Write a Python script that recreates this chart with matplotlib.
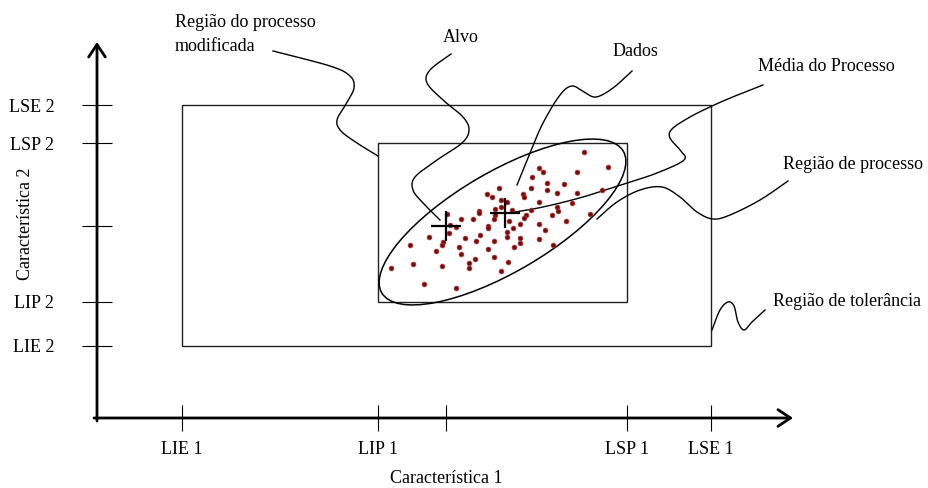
"""
===========================================================
Regiao de processo / tolerancia - diagrama bivariado
===========================================================
"""

import numpy as np

import matplotlib
matplotlib.use("Agg")

import matplotlib.pyplot as plt

from matplotlib.patches import Rectangle, Ellipse

plt.rcParams['font.family'] = ['Liberation Serif', 'DejaVu Serif']

# ==========================================================
# Data (axis units, origin at the axes crossing)
# ==========================================================

x_ticks = [85, 281, 349, 530, 614]
x_labels = ["LIE 1", "LIP 1", "", "LSP 1", "LSE 1"]

y_ticks = [72, 116, 192, 275, 313]
y_labels = ["LIE 2", "LIP 2", "", "LSP 2", "LSE 2"]

# LIE, LIP, Alvo, LSP, LSE
LIE1, LIP1, ALVO1, LSP1, LSE1 = x_ticks
LIE2, LIP2, ALVO2, LSP2, LSE2 = y_ticks

media = (408, 205)

dados_x = [487, 511, 442, 446, 480, 435, 450, 467, 434, 402,
           450, 460, 480, 505, 390, 395, 426, 427, 475, 404,
           410, 442, 398, 382, 404, 415, 434, 460, 461, 382,
           350, 493, 398, 429, 455, 427, 364, 376, 397, 412,
           469, 353, 359, 391, 391, 423, 442, 416, 352, 448,
           410, 410, 383, 332, 368, 379, 397, 423, 423, 442,
           346, 345, 313, 456, 417, 362, 339, 391, 364, 397,
           378, 372, 372, 316, 411, 294, 345, 404, 327, 359]

dados_y = [266, 251, 250, 246, 246, 241, 235, 234, 230, 230,
           228, 225, 225, 228, 224, 221, 224, 221, 215, 218,
           216, 216, 209, 207, 211, 208, 208, 211, 207, 205,
           204, 204, 203, 203, 203, 200, 199, 199, 199, 197,
           197, 193, 191, 192, 190, 194, 194, 190, 185, 188,
           186, 181, 183, 181, 180, 177, 177, 180, 175, 179,
           176, 173, 173, 173, 171, 171, 167, 169, 164, 161,
           159, 155, 150, 154, 156, 150, 152, 147, 134, 130]

# process ellipse: centre, width, height, angle
elip_centro = (405.5, 196)
elip_w, elip_h, elip_ang = 280, 100, 30.4

# ==========================================================
# Leader lines (control points)
# ==========================================================

leaders = {

    "modificada": [(176, 367), (233, 352), (253, 342), (257, 330), (249, 314),
                   (240, 298), (244, 287), (260, 275), (281, 262)],

    "alvo": [(354, 364), (333, 348), (330, 335), (346, 318), (366, 301),
             (372, 288), (365, 275), (340, 258), (318, 241), (316, 228),
             (326, 215), (343, 198)],

    "dados": [(535, 347), (516, 330), (499, 321), (487, 326), (475, 332),
              (463, 323), (446, 295), (433, 265), (420, 233)],

    "media": [(666, 333), (638, 322), (615, 312), (593, 301), (575, 289),
              (573, 280), (583, 268), (587, 258), (560, 245), (530, 235),
              (486, 221), (446, 211), (418, 206)],

    "processo": [(691, 237), (663, 218), (633, 203), (616, 199), (600, 206),
                 (583, 221), (565, 231), (543, 228), (520, 216), (500, 199)],

    "tolerancia": [(668, 108), (655, 96), (647, 88), (641, 96), (637, 112),
                   (631, 116), (623, 108), (615, 88)],
}


def smooth(pts, n=16):

    # catmull-rom through the control points
    p = np.array(pts, dtype=float)
    p = np.vstack([p[0], p, p[-1]])

    out = []

    for i in range(1, len(p) - 2):

        p0, p1, p2, p3 = p[i - 1], p[i], p[i + 1], p[i + 2]

        t = np.linspace(0, 1, n, endpoint=False)[:, None]

        seg = 0.5 * ((2 * p1) + (-p0 + p2) * t
                     + (2 * p0 - 5 * p1 + 4 * p2 - p3) * t ** 2
                     + (-p0 + 3 * p1 - 3 * p2 + p3) * t ** 3)

        out.append(seg)

    out.append(p[-2][None, :])

    return np.vstack(out)

# ==========================================================
# Figure
# ==========================================================

fig = plt.figure(figsize=(9.29, 4.88), dpi=100)

ax = fig.add_axes([0, 0, 1, 1])

ax.set_xlim(-97, 832)
ax.set_ylim(-70, 418)

ax.patch.set_visible(False)

for s in ["top", "right", "left", "bottom"]:

    ax.spines[s].set_visible(False)

ax.spines["left"].set_position(("data", 0))
ax.spines["bottom"].set_position(("data", 0))

# ------------------------------------------------------
# Ticks
# ------------------------------------------------------

ax.set_xticks(x_ticks, x_labels)
ax.set_yticks(y_ticks, y_labels)

ax.tick_params(axis="x", direction="inout", length=18.7, width=0.8,
               pad=7, labelsize=13)

ax.tick_params(axis="y", direction="inout", length=21.6, width=0.8,
               pad=20, labelsize=13)

# ------------------------------------------------------
# Axis arrows
# ------------------------------------------------------

arrow = dict(arrowstyle="->,head_length=0.45,head_width=0.3",
             lw=2, color="black", shrinkA=0, shrinkB=0, mutation_scale=20)

ax.annotate("", xy=(696, 0), xytext=(-3, 0), arrowprops=arrow)
ax.annotate("", xy=(0, 376), xytext=(0, -3), arrowprops=arrow)

ax.text(349, -65, "Característica 1", ha="center", va="baseline", fontsize=13)

ax.text(-71, 194, "Característica 2", ha="center", va="center",
        rotation=90, fontsize=13)

# ------------------------------------------------------
# Regions
# ------------------------------------------------------

ax.add_patch(Rectangle((LIE1, LIE2), LSE1 - LIE1, LSE2 - LIE2,
                       fill=False, lw=1.0, edgecolor="#222222"))

ax.add_patch(Rectangle((LIP1, LIP2), LSP1 - LIP1, LSP2 - LIP2,
                       fill=False, lw=1.0, edgecolor="#222222"))

ax.add_patch(Ellipse(elip_centro, elip_w, elip_h, angle=elip_ang,
                     fill=False, lw=1.1, edgecolor="black"))

# ------------------------------------------------------
# Data + targets
# ------------------------------------------------------

ax.scatter(dados_x, dados_y, s=12, marker="o", color="#7d0a0a",
           edgecolors="#a83a3a", linewidths=0.5, zorder=3)

ax.plot(ALVO1, ALVO2, marker="+", markersize=21, mew=1.6, color="black", zorder=4)
ax.plot(*media, marker="+", markersize=21, mew=1.6, color="black", zorder=4)

# ------------------------------------------------------
# Leaders
# ------------------------------------------------------

for name, pts in leaders.items():

    c = smooth(pts)

    ax.plot(c[:, 0], c[:, 1], color="black", lw=1.0, clip_on=False)

# ------------------------------------------------------
# Labels
# ------------------------------------------------------

ax.text(78, 391, "Região do processo", va="baseline", fontsize=13)
ax.text(78, 367, "modificada", va="baseline", fontsize=13)

ax.text(346, 376, "Alvo", va="baseline", fontsize=13)

ax.text(516, 362, "Dados", va="baseline", fontsize=13)

ax.text(661, 347, "Média do Processo", va="baseline", fontsize=13)

ax.text(686, 249, "Região de processo", va="baseline", fontsize=13)

ax.text(676, 112, "Região de tolerância", va="baseline", fontsize=13)

fig.savefig("out.png", dpi=100)
